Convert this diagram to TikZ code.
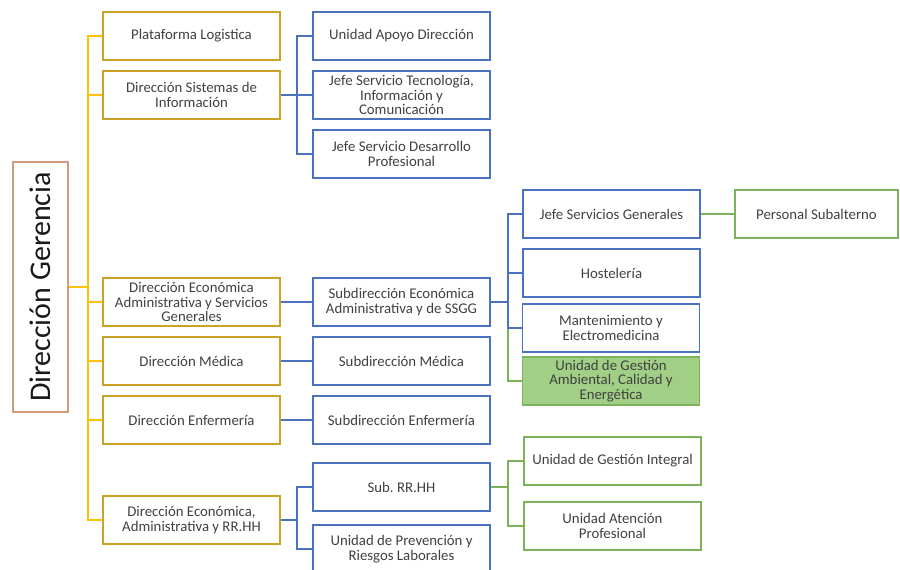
\documentclass[tikz,border=0pt]{standalone}
\usepackage{fontspec}
\setmainfont{Carlito}
\usepackage{xcolor}
\usetikzlibrary{positioning}
\definecolor{trunk}{HTML}{FFC000}
\definecolor{gold}{HTML}{C9A227}
\definecolor{azul}{HTML}{4A72C0}
\definecolor{verde}{HTML}{7CB25A}
\definecolor{verdefill}{HTML}{A2CF86}
\definecolor{rootc}{HTML}{D49A7E}
\frenchspacing

\begin{document}
\begin{tikzpicture}[x=1pt,y=-1pt,
    every node/.style={font=\fontsize{14.8}{14.3}\selectfont, text=black!75, align=center, inner sep=1pt},
    root/.style={draw=rootc, line width=1.5pt, rotate=90, minimum width=250pt, minimum height=55pt,
      font=\fontsize{30}{30}\selectfont, text=black!90},
    ybox/.style={draw=gold, line width=1.5pt, minimum width=177pt, minimum height=48pt},
    bbox/.style={draw=azul, line width=1.5pt, minimum width=177pt, minimum height=48pt},
    gbox/.style={draw=verde, line width=1.5pt, minimum width=177pt, minimum height=48pt},
    gfill/.style={gbox, fill=verdefill},
    yline/.style={draw=trunk, line width=1.8pt},
    bline/.style={draw=azul, line width=1.5pt},
    gline/.style={draw=verde, line width=1.5pt}]
  \useasboundingbox (0,0) rectangle (900,570);

  % direccion gerencia
  \node[root] (dg) at (40.5,287) {Dirección Gerencia};

  % primer nivel
  \node[ybox] (pl)  at (191.5,36)  {Plataforma Logistica};
  \node[ybox] (dsi) at (191.5,95)  {Dirección Sistemas de\\Información};
  \node[ybox] (dea) at (191.5,302) {Dirección Económica\\Administrativa y Servicios\\Generales};
  \node[ybox] (dm)  at (191.5,361) {Dirección Médica};
  \node[ybox] (den) at (191.5,420) {Dirección Enfermería};
  \node[ybox] (der) at (191.5,520) {Dirección Económica,\\Administrativa y RR.HH};

  % segundo nivel
  \node[bbox] (uad) at (401.5,36)  {Unidad Apoyo Dirección};
  \node[bbox] (jst) at (401.5,95)  {Jefe Servicio Tecnología,\\Información y\\Comunicación};
  \node[bbox] (jsd) at (401.5,154) {Jefe Servicio Desarrollo\\Profesional};
  \node[bbox] (sea) at (401.5,302) {Subdirección Económica\\Administrativa y de SSGG};
  \node[bbox] (sm)  at (401.5,361) {Subdirección Médica};
  \node[bbox] (sen) at (401.5,420) {Subdirección Enfermería};
  \node[bbox] (srh) at (401.5,487) {Sub. RR.HH};
  \node[bbox] (upr) at (401.5,549) {Unidad de Prevención y\\Riesgos Laborales};

  % tercer nivel
  \node[bbox]  (jsg) at (611.5,214) {Jefe Servicios Generales};
  \node[bbox]  (hos) at (611.5,273) {Hostelería};
  \node[bbox]  (mel) at (611,328)   {Mantenimiento y\\Electromedicina};
  \node[gfill] (uga) at (611,381)   {Unidad de Gestión\\Ambiental, Calidad y\\Energética};
  \node[gbox, minimum width=163pt] (ps) at (816.5,214) {Personal Subalterno};
  \node[gbox]  (ugi) at (612.5,461) {Unidad de Gestión Integral};
  \node[gbox]  (uap) at (612.5,526) {Unidad Atención\\Profesional};

  % conectores
  \path[yline] (dg.south) -- ++(19,0) |- (pl.west)
    (dg.south) -- ++(19,0) |- (dsi.west)
    (dg.south) -- ++(19,0) |- (dea.west)
    (dg.south) -- ++(19,0) |- (dm.west)
    (dg.south) -- ++(19,0) |- (den.west)
    (dg.south) -- ++(19,0) |- (der.west);

  \path[gline] (sea.east) -- ++(17,0) |- (uga.west)
    (jsg.east) -- (ps.west)
    (srh.east) -- ++(17,0) |- (ugi.west)
    (srh.east) -- ++(17,0) |- (uap.west);

  \path[bline] (dsi.east) -- ++(16,0) |- (uad.west)
    (dsi.east) -- ++(16,0) |- (jst.west)
    (dsi.east) -- ++(16,0) |- (jsd.west)
    (dea.east) -- (sea.west)
    (dm.east) -- (sm.west)
    (den.east) -- (sen.west)
    (sea.east) -- ++(17,0) |- (jsg.west)
    (sea.east) -- ++(17,0) |- (hos.west)
    (sea.east) -- ++(17,0) |- (mel.west)
    (der.east) -- ++(16,0) |- (srh.west)
    (der.east) -- ++(16,0) |- (upr.west);
\end{tikzpicture}
\end{document}
